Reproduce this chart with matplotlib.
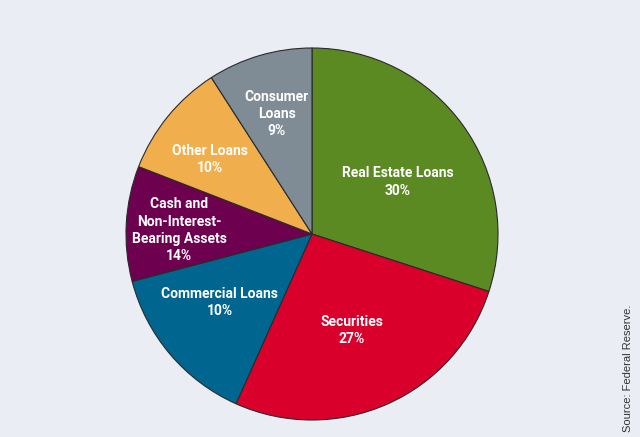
import matplotlib
matplotlib.use("Agg")
import matplotlib.pyplot as plt

# slice sizes as drawn (measured from the wedge angles)
categories = ["Real Estate Loans", "Securities", "Commercial Loans",
              "Cash and\nNon-Interest-\nBearing Assets", "Other Loans", "Consumer\nLoans"]
shares = [30, 26.7, 14.2, 10, 10, 9.1]
# percentages as printed on the chart
pct_labels = ["30%", "27%", "10%", "14%", "10%", "9%"]
colors = ["#5b8a22", "#d9002b", "#00658f", "#6e0050", "#f1ae4c", "#7f8c96"]

# label anchor points, in pie-radius units
label_xy = [(0.46, 0.28), (0.215, -0.52), (-0.495, -0.37),
            (-0.715, 0.02), (-0.55, 0.40), (-0.19, 0.645)]

BG = "#ebedf5"
W, H = 640, 437
cx, cy, r = 312, 234, 186

fig = plt.figure(figsize=(6.4, 4.37), dpi=100)
fig.patch.set_facecolor(BG)

ax = fig.add_axes([(cx - r) / W, (H - cy - r) / H, 2 * r / W, 2 * r / H])
ax.set_facecolor(BG)

wedges, _ = ax.pie(shares, colors=colors, startangle=90, counterclock=False,
                   wedgeprops=dict(edgecolor="#2a2a2a", linewidth=0.8))
for w in wedges:
    w.set_clip_on(False)
ax.set_xlim(-1, 1)
ax.set_ylim(-1, 1)
ax.set_aspect("equal")
ax.axis("off")

font = ["Roboto", "DejaVu Sans"]
for name, pct, (x, y) in zip(categories, pct_labels, label_xy):
    ax.text(x, y, name + "\n" + pct, ha="center", va="center", color="white",
            fontsize=10, fontweight="bold", family=font, linespacing=1.3)

fig.text(0.982, 0.012, "Source: Federal Reserve.", rotation=90, ha="center",
         va="bottom", fontsize=8, color="#333333", family=["Liberation Sans", "DejaVu Sans"])

fig.savefig("out.png", dpi=100, facecolor=BG)
